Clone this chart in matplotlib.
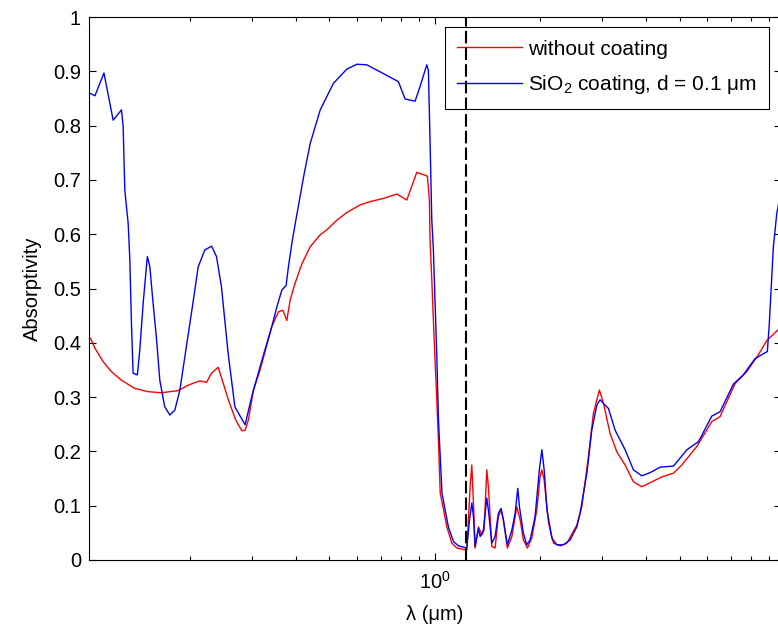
import numpy as np
import matplotlib
matplotlib.use('Agg')
import matplotlib.pyplot as plt
from matplotlib.ticker import NullFormatter

plt.rcParams['font.family'] = ['Liberation Sans', 'DejaVu Sans']
plt.rcParams['mathtext.fontset'] = 'custom'
plt.rcParams['mathtext.rm'] = 'Liberation Sans'

# absorptivity of the bare surface
wl_bare = [0.104, 0.107, 0.113, 0.1192, 0.1274, 0.139, 0.1517, 0.1657, 0.1849, 0.1974,
           0.2134, 0.2227, 0.2303, 0.2405, 0.2461, 0.2572, 0.2699, 0.281, 0.2872, 0.2935,
           0.3033, 0.3169, 0.3313, 0.3423, 0.3575, 0.368, 0.3778, 0.3862, 0.399, 0.4175,
           0.4406, 0.4706, 0.4916, 0.5252, 0.5606, 0.6119, 0.6531, 0.7132, 0.7786, 0.8315,
           0.8879, 0.9519, 0.9647, 0.9692, 0.9801, 0.9904, 1.001, 1.013, 1.024, 1.036,
           1.059, 1.082, 1.118, 1.156, 1.234, 1.261, 1.275, 1.289, 1.303, 1.332,
           1.362, 1.382, 1.407, 1.422, 1.454, 1.486, 1.518, 1.546, 1.569, 1.611,
           1.659, 1.714, 1.752, 1.790, 1.838, 1.891, 1.955, 1.997, 2.021, 2.052,
           2.112, 2.181, 2.280, 2.382, 2.543, 2.628, 2.745, 2.836, 2.950, 3.029,
           3.165, 3.309, 3.494, 3.690, 3.900, 4.169, 4.447, 4.803, 5.072, 5.598,
           6.180, 6.522, 7.203, 7.776, 8.391, 8.868, 9.55, 9.74]
abs_bare = [0.408, 0.390, 0.365, 0.347, 0.331, 0.316, 0.310, 0.308, 0.312, 0.322,
            0.330, 0.327, 0.344, 0.355, 0.335, 0.295, 0.258, 0.238, 0.239, 0.258,
            0.313, 0.350, 0.396, 0.430, 0.457, 0.460, 0.441, 0.479, 0.510, 0.546,
            0.577, 0.599, 0.608, 0.626, 0.640, 0.654, 0.660, 0.666, 0.674, 0.663,
            0.714, 0.707, 0.663, 0.589, 0.516, 0.442, 0.368, 0.295, 0.218, 0.123,
            0.092, 0.061, 0.031, 0.022, 0.018, 0.135, 0.175, 0.104, 0.022, 0.061,
            0.046, 0.055, 0.166, 0.135, 0.025, 0.022, 0.080, 0.092, 0.074, 0.022,
            0.043, 0.098, 0.074, 0.037, 0.022, 0.040, 0.092, 0.153, 0.166, 0.147,
            0.068, 0.031, 0.026, 0.031, 0.064, 0.098, 0.190, 0.270, 0.313, 0.289,
            0.233, 0.199, 0.175, 0.144, 0.135, 0.144, 0.153, 0.160, 0.175, 0.209,
            0.255, 0.264, 0.325, 0.347, 0.378, 0.404, 0.424, 0.432]

# absorptivity with the SiO2 layer (d = 0.1 um)
wl_sio2 = [0.104, 0.107, 0.1135, 0.1206, 0.1274, 0.1288, 0.1302, 0.1331, 0.1346, 0.136,
           0.1375, 0.1414, 0.1437, 0.1469, 0.151, 0.1535, 0.1568, 0.1602, 0.1639, 0.1693,
           0.1751, 0.1809, 0.187, 0.1932, 0.2018, 0.211, 0.2203, 0.2303, 0.2379, 0.2458,
           0.2568, 0.2685, 0.2872, 0.300, 0.3169, 0.3313, 0.3423, 0.3538, 0.3656, 0.3761,
           0.3818, 0.3905, 0.3964, 0.4219, 0.4406, 0.4706, 0.5134, 0.5606, 0.5985, 0.6393,
           0.6978, 0.7867, 0.8223, 0.8782, 0.9073, 0.9482, 0.9583, 0.9692, 0.9801, 0.9904,
           1.013, 1.024, 1.036, 1.048, 1.070, 1.093, 1.130, 1.168, 1.234, 1.256,
           1.275, 1.289, 1.303, 1.332, 1.347, 1.376, 1.407, 1.422, 1.454, 1.486,
           1.518, 1.546, 1.569, 1.611, 1.659, 1.695, 1.725, 1.744, 1.790, 1.830,
           1.871, 1.933, 1.988, 2.021, 2.052, 2.090, 2.159, 2.230, 2.330, 2.434,
           2.543, 2.598, 2.717, 2.806, 2.901, 2.964, 3.131, 3.272, 3.494, 3.690,
           3.900, 4.122, 4.400, 4.803, 5.245, 5.659, 6.180, 6.522, 7.123, 7.602,
           8.212, 8.902, 9.018, 9.165, 9.262, 9.470, 9.74]
abs_sio2 = [0.859, 0.855, 0.897, 0.810, 0.829, 0.798, 0.681, 0.620, 0.552, 0.436,
            0.344, 0.341, 0.387, 0.473, 0.559, 0.540, 0.473, 0.411, 0.331, 0.282,
            0.267, 0.276, 0.313, 0.374, 0.455, 0.540, 0.571, 0.578, 0.559, 0.503,
            0.381, 0.282, 0.249, 0.301, 0.356, 0.399, 0.430, 0.466, 0.497, 0.506,
            0.540, 0.583, 0.608, 0.706, 0.767, 0.829, 0.878, 0.904, 0.913, 0.912,
            0.899, 0.881, 0.849, 0.845, 0.872, 0.912, 0.902, 0.768, 0.626, 0.571,
            0.374, 0.258, 0.190, 0.123, 0.092, 0.061, 0.034, 0.026, 0.022, 0.074,
            0.105, 0.080, 0.025, 0.058, 0.043, 0.055, 0.114, 0.092, 0.031, 0.043,
            0.086, 0.095, 0.074, 0.028, 0.055, 0.086, 0.132, 0.098, 0.049, 0.028,
            0.037, 0.080, 0.166, 0.203, 0.166, 0.092, 0.040, 0.028, 0.028, 0.037,
            0.061, 0.086, 0.160, 0.239, 0.285, 0.295, 0.279, 0.239, 0.203, 0.166,
            0.155, 0.161, 0.171, 0.173, 0.203, 0.218, 0.265, 0.273, 0.324, 0.341,
            0.371, 0.384, 0.436, 0.522, 0.577, 0.638, 0.68]

cutoff_wl = 1.23  # dashed marker
yticks = [0, 0.1, 0.2, 0.3, 0.4, 0.5, 0.6, 0.7, 0.8, 0.9, 1]
ytick_labels = ['0', '0.1', '0.2', '0.3', '0.4', '0.5', '0.6', '0.7', '0.8', '0.9', '1']

fs = 14.5
fig = plt.figure(figsize=(7.78, 6.28), dpi=100)
ax = fig.add_axes([0.1148, 0.1083, 0.8891, 0.8646])

ax.semilogx(wl_bare, abs_bare, color='#ff0000', lw=1.0, label='without coating')
ax.semilogx(wl_sio2, abs_sio2, color='#0000ff', lw=1.0,
            label=r'SiO$_{\mathregular{2}}$ coating, d = 0.1 μm')
ax.axvline(cutoff_wl, color='black', lw=1.5, ls=(0, (6, 2)), zorder=6)

ax.set_xlim(0.1031, 9.74)
ax.set_ylim(0, 1)
ax.set_yticks(yticks)
ax.set_yticklabels(ytick_labels)
ax.xaxis.set_minor_formatter(NullFormatter())

ax.tick_params(which='both', direction='in', top=True, right=True,
               labelsize=fs, colors='black', width=0.8)
ax.tick_params(which='major', length=5, pad=6)
ax.tick_params(axis='x', which='major', pad=8)
ax.tick_params(which='minor', length=3)
for sp in ax.spines.values():
    sp.set_linewidth(0.8)
    sp.set_color('black')

ax.set_xlabel('λ (μm)', fontsize=fs, labelpad=9)
ax.set_ylabel('Absorptivity', fontsize=fs, labelpad=8)

leg = ax.legend(loc='upper right', bbox_to_anchor=(0.9827, 0.9816), borderaxespad=0,
                fontsize=15, fancybox=False, edgecolor='black', framealpha=1,
                handlelength=3.1, handletextpad=0.29, borderpad=0.6,
                labelspacing=0.7)
leg.get_frame().set_linewidth(0.8)
leg.set_zorder(5)

fig.savefig('out.png', dpi=100)
